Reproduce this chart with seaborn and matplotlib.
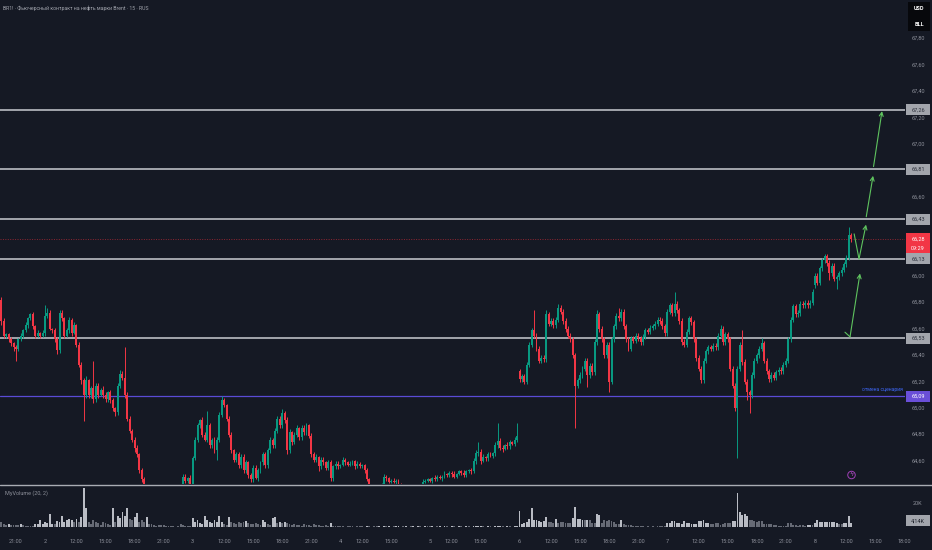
import numpy as np
import pandas as pd
import matplotlib
matplotlib.use("Agg")
import matplotlib.pyplot as plt
import seaborn as sns
from matplotlib.patches import Rectangle
from matplotlib.lines import Line2D

# ---------------- data (15-min bars, BR1!) ----------------
first_open = 65.82
gap_opens = {214: 65.28, 336: 65.93}

close_d1 = [65.66, 65.55, 65.56, 65.52, 65.49, 65.46, 65.45, 65.52, 65.55, 65.59, 65.63, 65.68, 65.71, 65.62,
            65.55, 65.57, 65.55, 65.57]
close_d2 = [65.70, 65.72, 65.60, 65.59, 65.52, 65.44, 65.72, 65.68, 65.55, 65.59,
            65.67, 65.57, 65.63, 65.48, 65.33, 65.21, 65.10, 65.21, 65.10, 65.15,
            65.07, 65.17, 65.10, 65.14, 65.10, 65.07, 65.12, 65.06, 65.00, 64.97,
            65.17, 65.26, 65.23, 65.10, 64.92, 64.83, 64.76, 64.70, 64.65, 64.53,
            64.46, 64.38, 64.35, 64.30, 64.25, 64.28, 64.22, 64.30, 64.26, 64.32,
            64.28, 64.35, 64.30, 64.33, 64.38, 64.36, 64.40, 64.48, 64.45, 64.47,
            64.40]
close_d3 = [64.62, 64.76, 64.87, 64.91, 64.80, 64.76, 64.87, 64.72, 64.76, 64.68,
            64.76, 64.95, 65.06, 65.02, 64.92, 64.80, 64.68, 64.61, 64.65, 64.57,
            64.63, 64.53, 64.59, 64.49, 64.46, 64.55, 64.47, 64.53, 64.59, 64.65,
            64.57, 64.68, 64.76, 64.72, 64.83, 64.92, 64.87, 64.96, 64.91, 64.68,
            64.82, 64.74, 64.80, 64.85, 64.78, 64.85, 64.82, 64.87, 64.79, 64.65,
            64.61, 64.63, 64.56, 64.61, 64.59, 64.55, 64.59, 64.47, 64.56, 64.58,
            64.56]
close_d4 = [64.57, 64.61, 64.59, 64.57, 64.58, 64.60, 64.56, 64.58, 64.56, 64.57,
            64.53, 64.46, 64.40, 64.36, 64.33, 64.35, 64.38, 64.42, 64.48, 64.47,
            64.44, 64.45, 64.44, 64.45, 64.42, 64.38, 64.35, 64.33, 64.30, 64.32,
            64.34, 64.36, 64.38, 64.40, 64.44, 64.45, 64.46]
close_d5 = [64.45, 64.47, 64.46, 64.48, 64.47, 64.48, 64.50, 64.49, 64.51, 64.50,
            64.48, 64.50, 64.52, 64.51, 64.49, 64.52, 64.53, 64.52, 64.60, 64.66,
            64.67, 64.60, 64.63, 64.62, 64.65, 64.64, 64.66, 64.72, 64.75, 64.70,
            64.69, 64.72, 64.71, 64.74, 64.73, 64.76, 64.79]
close_d6 = [65.22, 65.24, 65.20, 65.33, 65.48, 65.59, 65.55, 65.45, 65.36, 65.38,
            65.37, 65.71, 65.64, 65.66, 65.63, 65.67, 65.76, 65.73, 65.66, 65.60,
            65.55, 65.52, 65.40, 65.17, 65.21, 65.25, 65.30, 65.36, 65.25, 65.32,
            65.27, 65.50, 65.71, 65.60, 65.52, 65.40, 65.48, 65.20, 65.52, 65.62,
            65.70, 65.68, 65.73, 65.62, 65.52, 65.45, 65.53, 65.51, 65.55, 65.53,
            65.50, 65.54, 65.59, 65.58, 65.61, 65.62, 65.64, 65.67, 65.66, 65.62,
            65.57]
close_d7 = [65.73, 65.78, 65.72, 65.79, 65.74, 65.66, 65.50, 65.48, 65.58, 65.68,
            65.65, 65.52, 65.38, 65.30, 65.21, 65.36, 65.43, 65.46, 65.45, 65.47,
            65.46, 65.55, 65.60, 65.50, 65.56, 65.52, 65.30, 65.17, 65.00, 65.30,
            65.48, 65.35, 65.20, 65.12, 65.10, 65.25, 65.36, 65.40, 65.45, 65.49,
            65.36, 65.28, 65.22, 65.25, 65.23, 65.27, 65.29, 65.28, 65.33, 65.36,
            65.52, 65.67, 65.77, 65.71, 65.72, 65.79, 65.78, 65.80, 65.78, 65.80,
            65.88]
close_d8 = [66.00, 65.95, 66.06, 66.12, 66.15, 66.10, 66.02, 66.08, 65.98, 65.99,
            66.02, 66.05, 66.09, 66.14, 66.31, 66.28]

# wick lengths beyond the body, in cents
up_d1 = [2, 2, 1, 1, 2, 1, 2, 1, 2, 1, 2, 1, 1, 2, 1, 2, 1, 2]
dn_d1 = [3, 2, 2, 2, 2, 3, 9, 2, 1, 2, 1, 2, 1, 2, 2, 1, 2, 1]
up_d2 = [8, 4, 2, 1, 2, 2, 2, 2, 1, 2, 2, 1, 2, 1, 2, 2, 2, 3, 1, 2, 21, 2, 2, 1, 3, 2, 1, 2, 2, 1,
         2, 3, 2, 23, 2, 2, 1, 2, 2, 1, 2, 2, 2, 3, 2, 2, 2, 3, 2, 2, 2, 2, 2, 2, 2, 2, 2, 2, 2, 1, 2]
dn_d2 = [2, 2, 1, 2, 2, 3, 2, 2, 2, 1, 2, 2, 1, 2, 2, 3, 20, 2, 2, 2, 3, 2, 2, 1, 2, 2, 2, 2, 2, 3,
         2, 2, 2, 2, 2, 2, 2, 3, 2, 2, 2, 2, 2, 2, 2, 2, 2, 2, 2, 2, 2, 2, 2, 2, 2, 2, 2, 2, 2, 2, 2]
up_d3 = [2, 2, 2, 1, 2, 2, 11, 2, 1, 2, 2, 2, 3, 2, 1, 2, 2, 1, 2, 2, 2, 2, 2, 1, 2, 2, 2, 2, 1, 2,
         2, 2, 2, 1, 2, 2, 2, 3, 2, 2, 2, 1, 2, 2, 1, 2, 2, 2, 1, 2, 2, 2, 1, 2, 2, 1, 2, 2, 1, 2, 2]
dn_d3 = [2, 1, 2, 2, 2, 1, 2, 2, 2, 2, 7, 2, 2, 1, 2, 2, 2, 2, 2, 2, 2, 2, 2, 2, 2, 2, 1, 2, 2, 2,
         2, 2, 2, 2, 2, 2, 2, 2, 2, 3, 2, 2, 1, 2, 2, 2, 2, 2, 2, 2, 2, 2, 4, 2, 2, 2, 2, 2, 2, 2, 2]
up_d4 = [1, 2, 1, 1, 2, 1, 1, 2, 1, 1, 1, 2, 1, 1, 1, 2, 1, 1, 2, 1, 1, 1, 2, 1, 1, 1, 1, 2, 1, 1,
         1, 2, 1, 1, 2, 1, 1]
dn_d4 = [1, 1, 2, 1, 1, 1, 2, 1, 1, 1, 2, 1, 1, 1, 2, 1, 1, 1, 1, 2, 1, 1, 1, 2, 1, 1, 1, 1, 2, 1,
         1, 1, 1, 2, 1, 1, 1]
up_d5 = [1, 1, 2, 1, 1, 1, 2, 1, 1, 1, 2, 1, 1, 1, 2, 1, 1, 2, 2, 2, 7, 2, 2, 1, 2, 2, 1, 2, 14, 2,
         2, 1, 2, 2, 1, 2, 10]
dn_d5 = [1, 2, 1, 1, 1, 2, 1, 1, 1, 2, 1, 1, 1, 2, 1, 1, 1, 2, 1, 2, 2, 2, 1, 2, 2, 1, 2, 2, 2, 2,
         2, 1, 2, 2, 1, 2, 2]
up_d6 = [2, 2, 2, 2, 2, 2, 15, 2, 2, 2, 2, 3, 2, 2, 2, 2, 3, 2, 2, 2, 2, 2, 2, 2, 2, 2, 2, 2, 2, 2,
         2, 2, 3, 2, 2, 2, 2, 2, 2, 2, 2, 6, 2, 2, 2, 2, 2, 2, 2, 2, 2, 2, 2, 2, 2, 2, 2, 2, 2, 2, 2]
dn_d6 = [2, 2, 2, 2, 2, 2, 2, 2, 2, 2, 2, 2, 2, 2, 2, 2, 2, 2, 2, 2, 2, 2, 2, 32, 2, 2, 2, 2, 9, 2,
         2, 2, 2, 2, 2, 2, 2, 8, 2, 2, 2, 2, 2, 2, 2, 2, 2, 2, 2, 2, 2, 2, 2, 2, 2, 2, 2, 2, 2, 2, 2]
up_d7 = [2, 2, 2, 9, 2, 2, 2, 2, 2, 2, 2, 2, 2, 2, 2, 2, 2, 2, 2, 2, 2, 2, 3, 2, 2, 2, 2, 2, 2, 2,
         2, 11, 2, 2, 2, 2, 2, 2, 2, 4, 2, 2, 2, 2, 2, 2, 2, 2, 2, 2, 2, 2, 2, 2, 2, 2, 2, 2, 2, 2, 2]
dn_d7 = [2, 2, 2, 2, 2, 2, 2, 2, 2, 2, 2, 2, 2, 2, 2, 2, 2, 2, 2, 2, 2, 2, 2, 2, 2, 2, 2, 2, 2, 38,
         2, 2, 2, 6, 14, 2, 2, 2, 2, 2, 2, 2, 2, 2, 2, 2, 2, 2, 2, 2, 2, 2, 2, 2, 2, 2, 2, 2, 2, 2, 2]
up_d8 = [2, 2, 2, 2, 2, 2, 2, 2, 2, 2, 2, 2, 2, 2, 6, 2]
dn_d8 = [2, 2, 2, 2, 2, 2, 5, 2, 2, 8, 2, 2, 2, 2, 2, 2]

# volume, thousands of contracts
vol_d1 = [4.6, 3.2, 1.7, 3.2, 2.0, 2.5, 2.2, 1.7, 3.2, 2.0, 0.9, 1.5, 0.9, 1.2, 3.2, 2.8, 6.1, 3.0]
vol_d2 = [4.6, 4.0, 11.9, 3.2, 2.8, 5.2, 4.5, 9.6, 5.0, 6.1, 7.5, 6.5, 4.6, 7.5, 5.0, 9.0, 33.6, 16.2,
          4.6, 3.2, 6.1, 4.6, 4.2, 2.5, 4.6, 4.0, 3.2, 2.5, 16.2, 5.0, 9.6, 8.0, 13.3, 10.0, 16.2, 7.0,
          6.1, 9.0, 12.7, 5.0, 6.1, 5.0, 9.0, 3.2, 2.8, 1.7, 1.5, 2.5, 2.0, 1.7, 0.9, 1.2, 0.9, 1.0,
          0.8, 0.9, 3.2, 2.0, 0.9, 1.0, 0.9]
vol_d3 = [8.4, 5.0, 6.1, 4.0, 3.0, 9.6, 6.0, 4.6, 3.5, 6.1, 5.0, 9.6, 4.6, 3.0, 2.5, 9.0, 4.6, 4.0,
          3.2, 4.6, 3.8, 4.6, 5.5, 4.0, 3.2, 2.8, 3.8, 3.0, 2.5, 6.1, 4.6, 3.0, 2.5, 8.4, 9.0, 4.0,
          4.6, 3.5, 4.6, 4.0, 3.2, 2.5, 3.2, 2.0, 1.7, 1.5, 3.2, 2.5, 1.7, 1.5, 3.2, 2.0, 2.3, 1.2,
          1.0, 2.3, 1.5, 4.1, 0.9, 0.9, 0.9]
vol_d4 = [0.9, 1.0, 0.8, 1.1, 0.9, 1.0, 0.8, 0.9, 1.1, 1.0, 0.8, 1.4, 1.0, 0.8, 0.9, 1.1, 1.0, 0.8,
          1.2, 0.9, 1.0, 0.8, 0.9, 1.1, 1.0, 0.8, 0.9, 1.0, 0.8, 0.9, 1.1, 0.8, 1.0, 0.9, 0.8, 1.0, 0.9]
vol_d5 = [0.9, 1.0, 0.8, 0.9, 1.1, 0.8, 1.0, 0.9, 0.8, 1.0, 0.9, 0.8, 1.0, 0.9, 0.8, 1.0, 0.9, 0.8,
          1.4, 1.2, 1.1, 1.0, 0.9, 0.8, 1.0, 0.9, 0.8, 1.1, 1.2, 1.0, 0.9, 0.8, 1.0, 0.9, 0.8, 1.0, 1.1]
vol_d6 = [13.9, 3.2, 3.5, 4.6, 7.5, 16.2, 6.1, 6.1, 5.5, 5.0, 5.5, 9.0, 4.6, 4.6, 4.0, 7.5, 3.8, 4.6,
          4.6, 4.1, 4.1, 3.5, 8.4, 17.7, 7.5, 7.0, 6.5, 6.1, 6.7, 6.0, 4.1, 3.8, 11.3, 11.0, 3.8, 6.1,
          5.5, 6.1, 5.5, 4.6, 3.2, 3.2, 6.7, 3.2, 2.5, 2.5, 2.0, 1.2, 1.2, 1.0, 1.2, 0.9, 0.8, 1.0,
          0.8, 0.9, 0.8, 1.1, 0.9, 1.0, 1.0]
vol_d7 = [4.1, 4.1, 5.5, 5.5, 4.1, 4.1, 3.0, 5.5, 3.8, 3.8, 3.2, 3.2, 3.0, 5.5, 5.5, 6.7, 4.1, 4.1,
          3.2, 3.2, 3.8, 3.8, 2.5, 3.2, 3.8, 3.8, 3.5, 5.5, 5.5, 29.3, 13.3, 11.0, 11.9, 9.5, 6.1, 6.1,
          5.5, 5.0, 5.5, 5.5, 3.2, 3.2, 3.0, 3.2, 1.7, 1.7, 1.5, 1.2, 1.2, 1.2, 3.8, 3.8, 1.7, 1.7,
          1.0, 1.7, 1.7, 1.2, 2.3, 2.3, 2.0]
vol_d8 = [4.0, 6.1, 4.6, 4.6, 4.6, 4.6, 4.6, 4.6, 4.6, 4.0, 3.2, 3.2, 3.8, 3.8, 9.6, 4.14]

# time axis
tick_pos = [6, 18, 31, 43, 55, 67, 79, 92, 104, 116, 128, 140, 149, 161, 177, 186, 198, 214, 227,
            239, 251, 263, 275, 288, 300, 312, 324, 336, 349, 361, 373]
tick_labels = ['21:00', '2', '12:00', '15:00', '18:00', '21:00', '3', '12:00', '15:00', '18:00',
               '21:00', '4', '12:00', '15:00', '5', '12:00', '15:00', '6', '12:00', '15:00', '18:00',
               '21:00', '7', '12:00', '15:00', '18:00', '21:00', '8', '12:00', '15:00', '18:00']

# levels
target_levels = [67.26, 66.81, 66.43, 66.13, 65.53]
cancel_level = 65.09
last_price = 66.28
price_ticks = [67.8, 67.6, 67.4, 67.2, 67.0, 66.6, 66.0, 65.8, 65.6, 65.4, 65.2, 65.0, 64.8, 64.6]

title = "BR1! · Фьючерсный контракт на нефть марки Brent · 15 · RUS"

# ---------------- assemble ----------------
closes = close_d1 + close_d2 + close_d3 + close_d4 + close_d5 + close_d6 + close_d7 + close_d8
ups = up_d1 + up_d2 + up_d3 + up_d4 + up_d5 + up_d6 + up_d7 + up_d8
dns = dn_d1 + dn_d2 + dn_d3 + dn_d4 + dn_d5 + dn_d6 + dn_d7 + dn_d8
vols = vol_d1 + vol_d2 + vol_d3 + vol_d4 + vol_d5 + vol_d6 + vol_d7 + vol_d8
n = len(closes)
assert len(ups) == n and len(dns) == n and len(vols) == n, (n, len(ups), len(dns), len(vols))

opens = [first_open] + closes[:-1]
for k, v in gap_opens.items():
    opens[k] = v
df = pd.DataFrame({"idx": np.arange(n), "open": opens, "close": closes,
                   "up": np.array(ups) / 100.0, "dn": np.array(dns) / 100.0, "volume": vols})
df["high"] = df[["open", "close"]].max(axis=1) + df["up"]
df["low"] = df[["open", "close"]].min(axis=1) - df["dn"]
df["rising"] = df["close"] >= df["open"]
df["vshade"] = np.where(df["volume"] > df["volume"].rolling(20, min_periods=1).mean(), "hi", "lo")

# ---------------- style ----------------
BG = "#151924"
UP = "#089981"
DN = "#f23645"
TXT = "#8d909a"
sns.set_theme(style="dark", rc={"axes.facecolor": BG, "figure.facecolor": BG,
                                "axes.edgecolor": BG, "axes.grid": False})
plt.rcParams["font.family"] = ["Roboto", "DejaVu Sans"]

W, H = 932, 550
fig = plt.figure(figsize=(W / 100, H / 100), dpi=100, facecolor=BG)


def fx(px):
    return px / W


def fy(py):
    return 1 - py / H


ax = fig.add_axes([0, fy(484), 905 / W, 484 / H])
axv = fig.add_axes([0, fy(531), 905 / W, (531 - 486) / H], sharex=ax)
for a in (ax, axv):
    a.set_facecolor(BG)
    for s in a.spines.values():
        s.set_visible(False)

Y_LO, Y_HI = 64.425, 68.092
X_LO, X_HI = -0.58, 373.2

# candles
colors = np.where(df["rising"], UP, DN)
ax.vlines(df["idx"], df["low"], df["high"], colors=colors, lw=0.7, zorder=3)
body = np.maximum((df["close"] - df["open"]).abs(), 0.007)
ax.bar(df["idx"], body, bottom=df[["open", "close"]].min(axis=1), width=0.8,
       color=colors, linewidth=0, zorder=4)

# levels
for p in target_levels:
    ax.axhline(p, color="#c9cbd1", lw=1.1, zorder=2)
ax.axhline(cancel_level, color="#5a4bd6", lw=0.9, zorder=2)
ax.axhline(last_price, color="#8e2632", lw=0.7, ls=(0, (1, 1.5)), zorder=2)

# scenario arrows (drawn in data coords: bar index, price)
GREEN = "#5fc45f"
arrow_kw = dict(arrowstyle="->", color=GREEN, lw=0.8, shrinkA=0, shrinkB=0, mutation_scale=7)
ax.plot([348.4, 350.5], [65.575, 65.54], color=GREEN, lw=0.8, zorder=6)
ax.annotate("", xy=(354.6, 66.02), xytext=(350.5, 65.54), arrowprops=arrow_kw, zorder=6)
ax.plot([352.2, 354.2], [66.32, 66.13], color=GREEN, lw=0.8, zorder=6)
ax.annotate("", xy=(357.1, 66.39), xytext=(354.2, 66.13), arrowprops=arrow_kw, zorder=6)
ax.annotate("", xy=(360.0, 66.76), xytext=(357.2, 66.45), arrowprops=arrow_kw, zorder=6)
ax.annotate("", xy=(363.7, 67.25), xytext=(360.2, 66.83), arrowprops=arrow_kw, zorder=6)

ax.text(903 / 905, cancel_level + 0.05, "отмена сценария", transform=ax.get_yaxis_transform(),
        ha="right", va="center", fontsize=3.6, color="#3d66f5", zorder=7)

ax.set_xlim(X_LO, X_HI)
ax.set_ylim(Y_LO, Y_HI)
ax.tick_params(axis="both", which="both", length=0, labelbottom=False, labelleft=False)

# right price scale
ytr = ax.get_yaxis_transform()
for p in price_ticks:
    ax.text(918 / 905, p, f"{p:.2f}".replace(".", ","), transform=ytr, ha="center", va="center",
            fontsize=4, color=TXT, clip_on=False)

hh = 5.5 / 132


def price_box(p, fc, tc, label):
    ax.add_patch(Rectangle((906 / 905, p - hh), 24 / 905, 2 * hh, transform=ytr, fc=fc, ec="none",
                           clip_on=False, zorder=8))
    ax.text(918 / 905, p, label, transform=ytr, ha="center", va="center", fontsize=4, color=tc,
            clip_on=False, zorder=9)


for p in target_levels:
    price_box(p, "#a2a5ac", "#2b2f3a", f"{p:.2f}".replace(".", ","))
price_box(cancel_level, "#6a4fd8", "white", f"{cancel_level:.2f}".replace(".", ","))
ax.add_patch(Rectangle((906 / 905, last_price - 14 / 132), 24 / 905, 20 / 132, transform=ytr,
                       fc=DN, ec="none", clip_on=False, zorder=10))
ax.text(918 / 905, last_price, f"{last_price:.2f}".replace(".", ","), transform=ytr, ha="center",
        va="center", fontsize=4, color="white", clip_on=False, zorder=11)
ax.text(918 / 905, last_price - 9 / 132, "09:29", transform=ytr, ha="center", va="center",
        fontsize=4, color="white", clip_on=False, zorder=11)

# volume pane
sns.barplot(data=df, x="idx", y="volume", hue="vshade", palette={"hi": "#b9bcc4", "lo": "#666a75"},
            native_scale=True, dodge=False, legend=False, width=0.78, linewidth=0, saturation=1,
            errorbar=None, ax=axv)
axv.set_xlim(X_LO, X_HI)
axv.set_ylim(-2.98, 35.3)
axv.set_xlabel("")
axv.set_ylabel("")
axv.set_yticks([])
axv.set_xticks(tick_pos)
axv.set_xticklabels(tick_labels)
axv.tick_params(axis="x", length=0, pad=5.5, labelsize=4, labelcolor=TXT)
vtr = axv.get_yaxis_transform()
axv.text(918 / 905, 20, "20K", transform=vtr, ha="center", va="center", fontsize=4, color=TXT,
         clip_on=False)
axv.add_patch(Rectangle((906 / 905, 0.85), 24 / 905, 9.4, transform=vtr, fc="#a2a5ac", ec="none",
                        clip_on=False, zorder=8))
axv.text(918 / 905, 5.5, "4,14K", transform=vtr, ha="center", va="center", fontsize=4,
         color="#1c2029", clip_on=False, zorder=9)
axv.text(5 / 905, 0.84, "MyVolume (20, 2)", transform=axv.transAxes, ha="left", va="center",
         fontsize=4, color=TXT)

# pane separator
fig.add_artist(Line2D([0, 1], [fy(484.5), fy(484.5)], color="#a9acb3", lw=1.0))

# header
fig.text(fx(3), fy(8), title, ha="left", va="center", fontsize=3.7, color="#a0a3ac")
fig.add_artist(Rectangle((fx(908), fy(31)), 22 / W, 29 / H, fc="#07080c", ec="none"))
fig.text(fx(919), fy(9), "USD", ha="center", va="center", fontsize=4, color="white", weight="bold")
fig.text(fx(919), fy(24), "BLL", ha="center", va="center", fontsize=4, color="white", weight="bold")

# event marker
fig.text(fx(851.5), fy(475), "ϟ", ha="center", va="center", fontsize=4.5, color="#c45ad6",
         family=["DejaVu Sans"],
         bbox=dict(boxstyle="circle,pad=0.2", fc=BG, ec="#a040b8", lw=0.7))

fig.savefig("out.png", dpi=100, facecolor=BG)
